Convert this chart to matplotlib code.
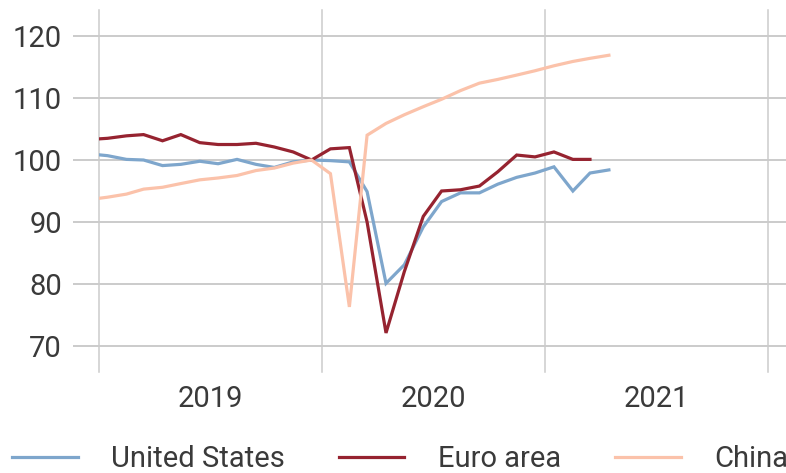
import matplotlib
matplotlib.use("Agg")
import matplotlib.pyplot as plt
import pandas as pd

plt.rcParams['font.family'] = ['Roboto', 'DejaVu Sans']

# Monthly index values (Dec 2019 = 100), mid-month observations starting Dec 2018
us = [101.0, 100.7, 100.1, 100.0, 99.1, 99.3, 99.8, 99.4, 100.1, 99.3, 98.8, 99.7, 100.0,
      99.9, 99.7, 94.9, 80.1, 83.1, 89.2, 93.3, 94.7, 94.7, 96.1, 97.2, 97.9,
      98.9, 95.0, 97.9, 98.4]
euro = [103.3, 103.5, 103.9, 104.1, 103.1, 104.1, 102.8, 102.5, 102.5, 102.7, 102.1, 101.3, 100.0,
        101.8, 102.0, 90.0, 72.1, 82.0, 90.9, 95.0, 95.2, 95.8, 98.1, 100.8, 100.5,
        101.3, 100.1, 100.1]
china = [93.6, 94.0, 94.5, 95.3, 95.6, 96.2, 96.8, 97.1, 97.5, 98.3, 98.7, 99.5, 100.0,
         97.8, 76.3, 104.0, 105.9, 107.3, 108.6, 109.8, 111.2, 112.4, 113.0, 113.7, 114.4,
         115.2, 115.9, 116.4, 116.9]
series_names = ["United States", "Euro area", "China"]
series_colors = ["#7ea6cc", "#962330", "#fbc2aa"]
yticks = [70, 80, 90, 100, 110, 120]
years = [2019, 2020, 2021]

def month_dates(n):
    return pd.date_range("2018-12-01", periods=n, freq="MS") + pd.Timedelta(days=14)

fig = plt.figure(figsize=(7.86, 4.73), dpi=100)
ax = fig.add_axes([99/786, 101/473, 1 - 99/786, 362/473])

for vals, name, col in zip([us, euro, china], series_names, series_colors):
    ax.plot(month_dates(len(vals)), vals, color=col, lw=2.3, label=name,
            solid_joinstyle='miter', zorder=3)

grid_col = "#cbcbcb"
txt_col = "#3a3a3a"
fs = 21
ax.set_ylim(65.8, 124.2)
ax.set_yticks(yticks)
ax.set_xlim(pd.Timestamp("2019-01-01"), pd.Timestamp("2022-01-30"))

ax.set_xticks([pd.Timestamp(f"{y}-01-01") for y in years + [2022]], minor=True)
ax.set_xticks([pd.Timestamp(f"{y}-07-02") for y in years])
ax.set_xticklabels([str(y) for y in years])
ax.grid(axis='x', which='minor', color=grid_col, lw=1.1)
ax.grid(axis='y', which='major', color=grid_col, lw=1.4)
for t in ax.xaxis.get_minor_ticks():
    t.gridline.set_clip_on(False)
for sp in ax.spines.values():
    sp.set_visible(False)

ax.tick_params(axis='y', length=18.7, width=1.4, color=grid_col, pad=8,
               labelsize=fs, labelcolor=txt_col)
ax.tick_params(axis='x', which='both', length=0, pad=9.5,
               labelsize=fs, labelcolor=txt_col)

fig.legend(loc='center left', bbox_to_anchor=(12/786, 14/473), ncol=3,
           frameon=False, fontsize=fs, handlelength=2.25, handletextpad=1.15,
           columnspacing=1.85, borderpad=0, borderaxespad=0, labelcolor=txt_col)

fig.savefig("out.png", dpi=100)
